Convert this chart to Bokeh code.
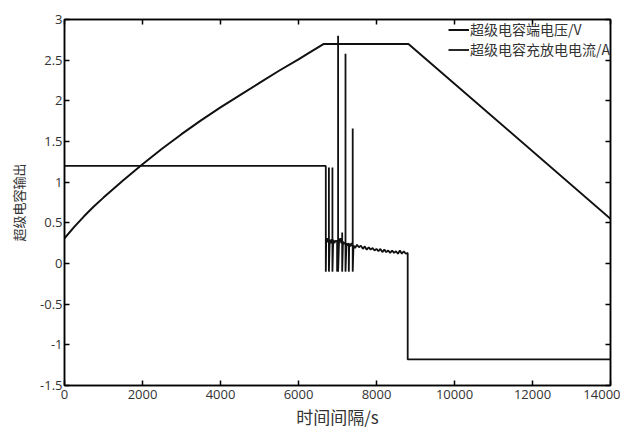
from bokeh.plotting import figure
from bokeh.models import LinearAxis, FixedTicker, Range1d, Legend, LegendItem
from bokeh.embed import file_html
from bokeh.resources import INLINE

# ---- data ----
volt_t = [0, 250, 500, 750, 1000, 1500, 2000, 2500, 3000, 3500, 4000, 4500, 5000, 5500, 6000, 6300, 6650, 8820, 14000]
volt_v = [0.31, 0.45, 0.58, 0.70, 0.81, 1.02, 1.22, 1.41, 1.59, 1.76, 1.92, 2.07, 2.22, 2.37, 2.51, 2.60, 2.70, 2.70, 0.55]

curr_t = [0, 6700, 6700, 6710, 6730, 6750,
          6780, 6780, 6780, 6800, 6830, 6850,
          6870, 6870, 6870, 6890, 6920, 6950,
          6990, 6990, 7000,
          7015, 7015, 7015, 7040, 7070, 7100,
          7120, 7120, 7120, 7140, 7170,
          7205, 7205, 7205, 7230, 7260,
          7290, 7290, 7300, 7330, 7360,
          7390, 7390, 7390,
          7410, 7450, 7500, 7550, 7600, 7650, 7700, 7750, 7800, 7850, 7900, 7950, 8000,
          8050, 8100, 8150, 8200, 8250, 8300, 8350, 8400, 8450, 8500, 8550, 8600, 8650,
          8700, 8750, 8800, 8800, 14000]
curr_i = [1.20, 1.20, -0.10, 0.30, 0.26, 0.31,
          0.28, 1.18, -0.10, 0.29, 0.25, 0.30,
          0.27, 1.18, -0.10, 0.29, 0.25, 0.28,
          0.27, -0.10, 0.29,
          0.28, 2.80, -0.10, 0.27, 0.31, 0.25,
          0.27, 0.38, -0.10, 0.27, 0.24,
          0.26, 2.58, -0.10, 0.25, 0.22,
          0.25, -0.10, 0.24, 0.21, 0.25,
          0.22, 1.66, -0.10,
          0.22, 0.19, 0.23, 0.20, 0.22, 0.18, 0.21, 0.17, 0.20, 0.17, 0.19, 0.16, 0.18,
          0.15, 0.18, 0.14, 0.17, 0.14, 0.16, 0.13, 0.16, 0.13, 0.15, 0.12, 0.16, 0.12,
          0.15, 0.12, 0.13, -1.18, -1.18]

x_ticks = [0, 2000, 4000, 6000, 8000, 10000, 12000, 14000]
y_ticks = [-1.5, -1, -0.5, 0, 0.5, 1, 1.5, 2, 2.5, 3]
y_tick_labels = ["-1.5", "-1", "-0.5", "0", "0.5", "1", "1.5", "2", "2.5", "3"]

series_names = ["超级电容端电压/V", "超级电容充放电电流/A"]
x_label = "时间间隔/s"
y_label = "超级电容输出"

FONT = "Open Sans"
CJK = "Noto Sans CJK SC"

p = figure(width=620, height=432, output_backend="svg", toolbar_location=None,
           x_range=Range1d(0, 14000), y_range=Range1d(-1.5, 3),
           min_border_left=64, min_border_right=10, min_border_top=19, min_border_bottom=47)
p.grid.visible = False
p.outline_line_color = "black"
p.outline_line_width = 1.5
p.background_fill_color = "white"
p.border_fill_color = "white"

r1 = p.line(volt_t, volt_v, line_color="#111111", line_width=2)
r2 = p.line(curr_t, curr_i, line_color="#111111", line_width=1.8)

for ax in (p.xaxis[0], p.yaxis[0]):
    ax.major_tick_in = 5
    ax.major_tick_out = 0
    ax.minor_tick_line_color = None
    ax.axis_line_width = 1.5
    ax.major_tick_line_width = 1.5
    ax.major_label_text_font = FONT
    ax.major_label_text_font_size = "13px"
    ax.major_label_text_color = "#333333"

p.xaxis[0].ticker = FixedTicker(ticks=x_ticks)
p.yaxis[0].ticker = FixedTicker(ticks=y_ticks)
p.yaxis[0].major_label_overrides = {t: l for t, l in zip(y_ticks, y_tick_labels)}
p.xaxis[0].major_label_standoff = 4
p.yaxis[0].major_label_standoff = 2

p.xaxis[0].axis_label = x_label
p.xaxis[0].axis_label_text_font = CJK
p.xaxis[0].axis_label_text_font_size = "17px"
p.xaxis[0].axis_label_text_font_style = "normal"
p.xaxis[0].axis_label_text_color = "#333333"
p.xaxis[0].axis_label_standoff = 2

p.yaxis[0].axis_label = y_label
p.yaxis[0].axis_label_text_font = CJK
p.yaxis[0].axis_label_text_font_size = "13px"
p.yaxis[0].axis_label_text_font_style = "normal"
p.yaxis[0].axis_label_text_color = "#333333"
p.yaxis[0].axis_label_standoff = 9

top = LinearAxis(ticker=FixedTicker(ticks=x_ticks))
right = LinearAxis(ticker=FixedTicker(ticks=y_ticks))
top.major_label_overrides = {t: "" for t in x_ticks}
right.major_label_overrides = {t: "" for t in y_ticks}
for ax in (top, right):
    ax.major_tick_in = 5
    ax.major_tick_out = 0
    ax.minor_tick_line_color = None
    ax.axis_line_width = 1.5
    ax.major_tick_line_width = 1.5
    ax.major_label_text_font_size = "1px"
    ax.major_label_standoff = 0
p.add_layout(top, "above")
p.add_layout(right, "right")

legend = Legend(items=[LegendItem(label=series_names[0], renderers=[r1]),
                       LegendItem(label=series_names[1], renderers=[r2])],
                location="top_right")
legend.label_text_font = CJK
legend.label_text_font_size = "14px"
legend.label_text_color = "#333333"
legend.glyph_width = 21
legend.glyph_height = 19
legend.label_height = 19
legend.label_standoff = 1
legend.spacing = 0
legend.padding = 5
legend.margin = 0
legend.border_line_color = None
legend.background_fill_alpha = 0
p.add_layout(legend)

open("out.html", "w").write(file_html(p, INLINE))
